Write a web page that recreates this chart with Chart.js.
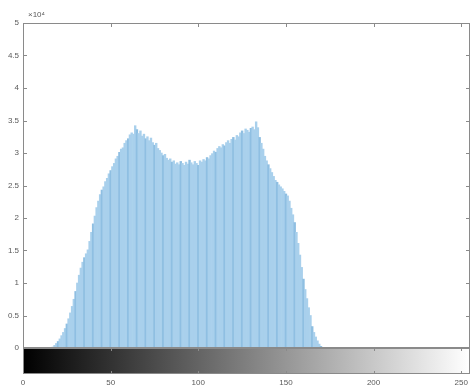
<!DOCTYPE html>
<html>
<head>
<meta charset="utf-8">
<script src="https://cdn.jsdelivr.net/npm/chart.js@4.4.1/dist/chart.umd.min.js"></script>
<style>
  html, body { margin: 0; padding: 0; background: #fff; }
  #wrap { width: 475px; height: 387px; }
</style>
</head>
<body>
<div id="wrap"><canvas id="hist" width="475" height="387"></canvas></div>
<script>
// Gray levels 0..255
const grayLevels = Array.from({ length: 256 }, (_, i) => i);

// Pixel counts per gray level (levels 0-16 and 172-255 are empty)
const countsLow = [
  0, 0, 0, 0, 0, 0, 0, 0, 0, 0, 0, 0, 0, 0, 0, 0
];
const countsMid = [
  // 16 .. 39
  0, 150, 400, 700, 1000, 1400, 1900, 2400, 3000, 3700, 4500, 5400,
  6400, 7500, 8700, 10000, 11200, 12300, 13200, 13900, 14500, 15100, 16400, 17800,
  // 40 .. 63
  19100, 20300, 21600, 22600, 23600, 24300, 24800, 25600, 26100, 26800, 27300, 27900,
  28400, 29100, 29500, 30100, 30600, 30800, 31500, 31900, 32200, 32800, 33100, 32900,
  // 64 .. 87
  34200, 33600, 33000, 33400, 32600, 32900, 32200, 32500, 31900, 32300, 31600, 31200,
  31500, 30700, 30400, 30000, 29600, 29800, 29200, 28900, 29100, 28600, 28800, 28300,
  // 88 .. 111
  28500, 28200, 28700, 28400, 28100, 28600, 28300, 28900, 28500, 28200, 28700, 28400,
  28100, 28800, 28600, 29000, 28800, 29300, 29100, 29600, 29900, 30300, 30100, 30700,
  // 112 .. 135
  31000, 30800, 31300, 31100, 31600, 31900, 31500, 32100, 32400, 32000, 32700, 32500,
  33100, 33400, 33000, 33700, 33500, 33200, 33800, 34000, 33600, 34800, 33900, 32400,
  // 136 .. 159
  31500, 30600, 29500, 28800, 28200, 27600, 27000, 26400, 25800, 25500, 25100, 24800,
  24500, 24100, 23700, 23400, 22600, 21500, 20500, 19300, 17800, 16100, 14300, 12400,
  // 160 .. 172
  10600, 9000, 7600, 6200, 5000, 3300, 2400, 1700, 1100, 600, 250, 80, 0
];
const countsHigh = new Array(256 - 16 - countsMid.length).fill(0);
const counts = countsLow.concat(countsMid, countsHigh);

// Axis tick values
const xTicks = [0, 50, 100, 150, 200, 250];
const yTicks = [0, 5000, 10000, 15000, 20000, 25000, 30000, 35000, 40000, 45000, 50000];

const AXIS_COLOR = '#8a8a8a';
const TEXT_COLOR = '#5a5a5a';
const FONT = { family: '"Liberation Sans", Arial, sans-serif', size: 8 };
const BAR_HEIGHT = 26;

// Box, inward ticks, exponent label and the gray-level bar under the axes
const framePlugin = {
  id: 'frame',
  afterDraw(chart) {
    const { ctx, chartArea: a, scales } = chart;
    const xs = scales.x, ys = scales.y;
    ctx.save();

    // gray-level colorbar
    const top = a.bottom, bot = a.bottom + BAR_HEIGHT;
    const g = ctx.createLinearGradient(xs.getPixelForValue(0), 0, xs.getPixelForValue(255), 0);
    g.addColorStop(0, '#000000');
    g.addColorStop(1, '#ffffff');
    ctx.fillStyle = g;
    ctx.fillRect(a.left, top, a.right - a.left, BAR_HEIGHT);
    ctx.strokeStyle = AXIS_COLOR;
    ctx.lineWidth = 1;
    ctx.strokeRect(a.left + 0.5, top + 0.5, a.right - a.left - 1, BAR_HEIGHT - 1);

    // axes box
    ctx.strokeRect(a.left + 0.5, a.top + 0.5, a.right - a.left - 1, a.bottom - a.top - 1);

    // inward tick marks
    ctx.beginPath();
    const tl = 4;
    yTicks.forEach(v => {
      const y = Math.round(ys.getPixelForValue(v)) + 0.5;
      ctx.moveTo(a.left, y); ctx.lineTo(a.left + tl, y);
      ctx.moveTo(a.right, y); ctx.lineTo(a.right - tl, y);
    });
    xTicks.forEach(v => {
      const x = Math.round(xs.getPixelForValue(v)) + 0.5;
      ctx.moveTo(x, a.top); ctx.lineTo(x, a.top + tl);
      ctx.moveTo(x, top); ctx.lineTo(x, top + 3);
      ctx.moveTo(x, bot); ctx.lineTo(x, bot - 3);
    });
    ctx.stroke();

    // exponent label
    ctx.fillStyle = TEXT_COLOR;
    ctx.font = '8px "Liberation Sans", Arial, sans-serif';
    ctx.textBaseline = 'alphabetic';
    ctx.textAlign = 'left';
    ctx.fillText('\u00d710\u2074', a.left + 5, a.top - 6);
    ctx.restore();
  }
};

new Chart(document.getElementById('hist'), {
  type: 'bar',
  data: {
    datasets: [{
      data: grayLevels.map((x, i) => ({ x, y: counts[i] })),
      // every fifth level a touch darker, giving the striped fill
      backgroundColor: ctx => (ctx.dataIndex % 5 === 0 ? '#8fbfe2' : '#a9d0ec'),
      borderWidth: 0,
      barPercentage: 1,
      categoryPercentage: 1
    }]
  },
  options: {
    responsive: false,
    animation: false,
    devicePixelRatio: 1,
    layout: { padding: { top: 23, right: 5, left: 0, bottom: 0 } },
    plugins: { legend: { display: false }, tooltip: { enabled: false } },
    scales: {
      x: {
        type: 'linear',
        min: 0,
        max: 255,
        offset: false,
        grid: { display: false, drawTicks: false },
        border: { display: false },
        afterBuildTicks(scale) { scale.ticks = xTicks.map(value => ({ value })); },
        afterFit(scale) {
          scale.height = 39;
          scale.paddingLeft = 0;
          scale.paddingRight = 0;
        },
        ticks: { padding: 30, font: FONT, color: TEXT_COLOR, maxRotation: 0 }
      },
      y: {
        min: 0,
        max: 50000,
        grid: { display: false, drawTicks: false },
        border: { display: false },
        afterBuildTicks(scale) { scale.ticks = yTicks.map(value => ({ value })); },
        afterFit(scale) {
          scale.width = 23;
          scale.paddingTop = 0;
          scale.paddingBottom = 0;
        },
        ticks: {
          padding: 4,
          font: FONT,
          color: TEXT_COLOR,
          callback: v => String(v / 10000)
        }
      }
    }
  },
  plugins: [framePlugin]
});
</script>
</body>
</html>
